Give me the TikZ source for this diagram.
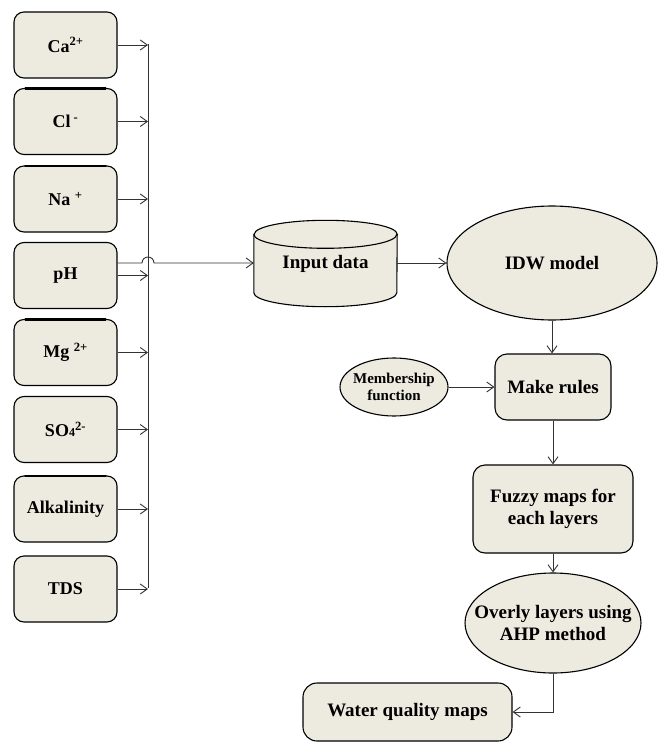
\documentclass[tikz,border=0pt]{standalone}
\usepackage{fontspec}
\setmainfont{Liberation Serif}
\usetikzlibrary{arrows.meta,shapes.geometric,backgrounds}
\definecolor{boxfill}{RGB}{237,234,224}
\begin{document}
\begin{tikzpicture}[x=1pt,y=-1pt,
  lbox/.style={draw, rounded corners=10pt, fill=boxfill, line width=1.1pt,
    minimum width=103pt, minimum height=66pt, inner sep=0pt,
    font=\bfseries\fontsize{18}{20}\selectfont},
  rbox/.style={draw, rounded corners=12pt, fill=boxfill, line width=1.1pt,
    inner sep=0pt, align=center, font=\bfseries\fontsize{19}{22}\selectfont},
  ell/.style={draw, ellipse, fill=boxfill, line width=1.1pt, inner sep=0pt,
    align=center, font=\bfseries\fontsize{19}{22}\selectfont},
  conn/.style={draw=black!80, line width=0.9pt, -{Straight Barb[length=7pt,width=10pt]}},
  busline/.style={draw=black!80, line width=1pt},
  topedge/.style={line width=2.6pt, line cap=round}]
\useasboundingbox (0,0) rectangle (659,743);

% left column
\node[lbox] (ca)  at (65.5,45)    {Ca\textsuperscript{2+}};
\node[lbox] (cl)  at (65.5,121.5) {Cl\,\textsuperscript{-}};
\node[lbox] (na)  at (65.5,199)   {Na \textsuperscript{+}};
\node[lbox] (ph)  at (65.5,275.5) {pH};
\node[lbox] (mg)  at (65.5,352.5) {Mg \textsuperscript{2+}};
\node[lbox] (so)  at (65.5,429.5) {SO{\fontsize{12}{12}\selectfont 4}\textsuperscript{2-}};
\node[lbox] (alk) at (65.5,509)   {Alkalinity};
\node[lbox] (tds) at (65.5,589)   {TDS};
\foreach \n in {cl,na,mg,alk}{
  \draw[topedge] ([xshift=12pt,yshift=-0.4pt]\n.north west) -- ([xshift=-12pt,yshift=-0.4pt]\n.north east);
}

% bus
\coordinate (bt) at (148,44);
\coordinate (bb) at (148,588);
\draw[busline] (bt) -- (bb);
\foreach \n in {ca,cl,na,ph,mg,so,alk,tds}{
  \draw[conn] (\n.east) -- (\n.east -| bt);
}

% input data cylinder
\node[minimum width=143pt, minimum height=86pt, inner sep=0pt,
  font=\bfseries\fontsize{19}{22}\selectfont] (inp) at (325.5,263.5) {Input data};
\begin{scope}[on background layer]
\path[draw, fill=boxfill, line width=1.1pt]
  ([yshift=-14pt]inp.north west) -- ([yshift=14pt]inp.south west)
  arc[start angle=180, end angle=360, x radius=71.5pt, y radius=14pt]
  -- ([yshift=-14pt]inp.north east)
  arc[start angle=0, end angle=180, x radius=71.5pt, y radius=14pt] -- cycle;
\draw[line width=1.1pt] ([yshift=-14pt]inp.north west)
  arc[start angle=180, end angle=360, x radius=71.5pt, y radius=14pt];
\end{scope}

% jump connector from pH
\coordinate (j1) at (142,263);
\draw[conn] ([yshift=12.5pt]ph.east) -- (j1)
  arc[start angle=180, end angle=0, radius=6pt] -- (j1 -| inp.west);

% right part
\node[ell, minimum width=210pt, minimum height=114pt] (idw) at (552,263) {IDW model};
\node[rbox, minimum width=116pt, minimum height=66pt] (mr) at (553,387) {Make rules};
\node[ell, minimum width=108pt, minimum height=58pt, inner xsep=-6pt,
  font=\bfseries\fontsize{15}{17}\selectfont] (mf) at (394,387) {Membership\\function};
\node[rbox, minimum width=160pt, minimum height=88pt] (fz) at (553,509) {Fuzzy maps for\\each layers};
\node[ell, minimum width=176pt, minimum height=100pt, inner xsep=-18pt] (ov) at (553,623) {Overly layers using\\AHP method};
\node[rbox, rounded corners=14pt, minimum width=209pt, minimum height=58pt] (wq) at (407.5,712) {Water quality maps};

\draw[conn] (inp.east |- idw.west) -- (idw.west);
\draw[conn] (idw.south) -- (idw.south |- mr.north);
\draw[conn] (mf.east) -- (mr.west);
\draw[conn] (mr.south) -- (fz.north);
\draw[conn] (fz.south) -- (ov.north);
\draw[conn] (ov.south) |- (wq.east);
\end{tikzpicture}
\end{document}
